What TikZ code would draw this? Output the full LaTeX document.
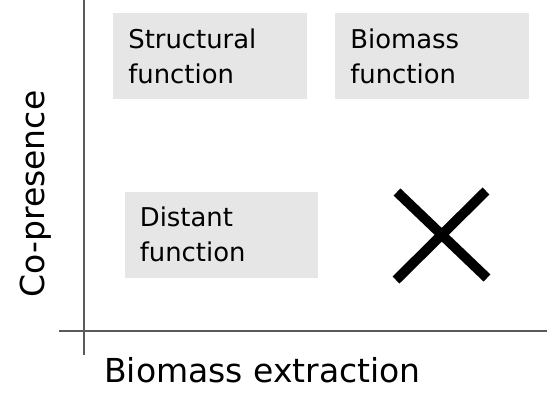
\documentclass[tikz,border=0pt]{standalone}
\usepackage{fontspec}
\setmainfont{DejaVu Sans}
\usepackage{xcolor}
\definecolor{boxgray}{HTML}{E6E6E6}
\definecolor{axisgray}{HTML}{5A5A5A}

\begin{document}
\begin{tikzpicture}[x=0.75pt, y=-0.75pt,
  fbox/.style={rectangle, fill=boxgray, minimum width=145pt, minimum height=64.5pt, inner xsep=11.25pt, inner ysep=0pt, text width=122.5pt, align=left, font=\fontsize{19.4}{26.25}\selectfont},
  axlabel/.style={inner sep=0pt, font=\fontsize{24.75}{30}\selectfont},
  axis/.style={line width=1.1pt, draw=axisgray},
  cross/.style={line width=7.4pt, draw=black}
]
\useasboundingbox (0,0) rectangle (547,414);
\node[fbox] (structural) at (210,56) {Structural\\function};
\node[fbox] (biomass) at (432,56) {Biomass\\function};
\node[fbox] (distant) at (221.5,234.5) {Distant\\function};
\node[axlabel, rotate=90, anchor=base] (copres) at (44,194) {Co-presence};
\node[axlabel, anchor=base west] (extract) at (104,382) {Biomass extraction};
\coordinate (ytop) at (84,0);
\coordinate (ybot) at (84,355);
\coordinate (xleft) at (59,331);
\coordinate (xright) at (547,331);
\coordinate (xa) at (397,192);
\coordinate (xb) at (487,278);
\coordinate (xc) at (486,191);
\coordinate (xd) at (396,280);
\draw[axis] (ytop) -- (ybot);
\draw[axis] (xleft) -- (xright);
\draw[cross] (xa) -- (xb);
\draw[cross] (xc) -- (xd);
\end{tikzpicture}
\end{document}
